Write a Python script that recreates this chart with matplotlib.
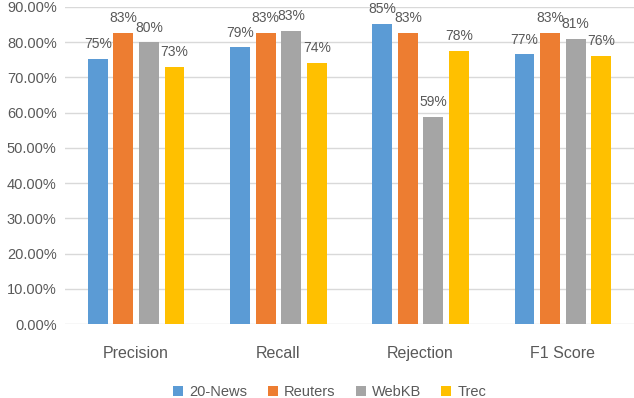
import numpy as np
import matplotlib
matplotlib.use('Agg')
import matplotlib.pyplot as plt
from matplotlib.ticker import FuncFormatter

plt.rcParams['font.family'] = ['Liberation Sans Narrow', 'Liberation Sans', 'DejaVu Sans']

categories = ['Precision', 'Recall', 'Rejection', 'F1 Score']
series_names = ['20-News', 'Reuters', 'WebKB', 'Trec']
news20  = [0.752, 0.786, 0.852, 0.766]
reuters = [0.826, 0.826, 0.827, 0.827]
webkb   = [0.800, 0.832, 0.588, 0.809]
trec    = [0.730, 0.742, 0.776, 0.762]
colors = ['#5B9BD5', '#ED7D31', '#A5A5A5', '#FFC000']

txt = '#595959'
fig = plt.figure(figsize=(6.34, 3.98), dpi=100)
ax = fig.add_axes([65/634, 1-324/398, 569/634, 317/398])

x = np.arange(len(categories))
w = 0.14
pitch = 0.18
for i, (vals, name) in enumerate(zip([news20, reuters, webkb, trec], series_names)):
    pos = x + (i - 1.5) * pitch
    ax.bar(pos, vals, w, color=colors[i], label=name, zorder=3)
    for p, v in zip(pos, vals):
        ax.annotate('%d%%' % round(v*100), (p, v), xytext=(0, 5.5), textcoords='offset points',
                    ha='center', va='bottom', fontsize=10, color=txt)

ax.set_xlim(-0.5, 3.5)
ax.set_ylim(0, 0.9)
ax.set_yticks(np.arange(0, 0.91, 0.1))
ax.yaxis.set_major_formatter(FuncFormatter(lambda v, p: '%.2f%%' % (v*100)))
ax.set_xticks(x)
ax.set_xticklabels(categories)
ax.tick_params(axis='y', length=0, labelsize=10.5, labelcolor=txt, pad=6)
ax.tick_params(axis='x', length=0, labelsize=11.5, labelcolor=txt, pad=16)
ax.grid(axis='y', color='#D9D9D9', linewidth=1, zorder=0)
for s in ax.spines.values():
    s.set_visible(False)

leg = fig.legend(loc='lower center', bbox_to_anchor=(0.52, -0.035), ncol=4, frameon=False,
                 fontsize=10.5, handlelength=0.7, handleheight=0.7, handletextpad=0.4,
                 columnspacing=1.4)
for t in leg.get_texts():
    t.set_color(txt)

plt.savefig('out.png', dpi=100)
plt.close(fig)
